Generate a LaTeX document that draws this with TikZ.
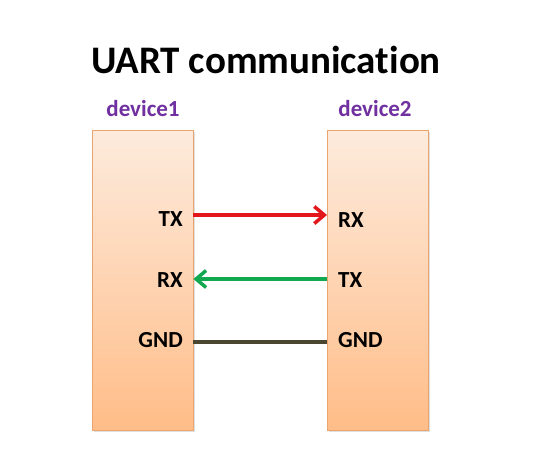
\documentclass[tikz,border=0pt]{standalone}
\usepackage{fontspec}
\setmainfont{Carlito}[Ligatures={NoCommon,NoRequired}]
\usetikzlibrary{arrows.meta,shadows}
\definecolor{peachtop}{HTML}{FDEBDD}
\definecolor{peachbot}{HTML}{FFBD88}
\definecolor{peachline}{HTML}{E9A470}
\definecolor{devpurple}{HTML}{7030A0}
\definecolor{txred}{HTML}{E3161B}
\definecolor{rxgreen}{HTML}{12A84F}
\definecolor{gndolive}{HTML}{4A4630}
\tikzset{devbox/.style={draw=peachline,top color=peachtop,bottom color=peachbot,minimum width=101pt,minimum height=300pt,inner sep=0pt,
  drop shadow={shadow xshift=1.5pt,shadow yshift=-1.5pt,opacity=.25}},
  devname/.style={text=devpurple,font=\bfseries\fontsize{23}{26}\selectfont},
  pin/.style={inner sep=0pt,font=\bfseries\fontsize{23}{26}\selectfont},
  wire/.style={line width=3.5pt}}
\begin{document}
\begin{tikzpicture}[x=1pt,y=-1pt]
\useasboundingbox (0,0) rectangle (538,458);
\node (title) at (266,60) {\bfseries\fontsize{39}{44}\selectfont UART communication};
\node[devname] (name1) at (143,109) {device1}; \node[devname] (name2) at (375,109) {device2};
\node[devbox,anchor=north west] (dev1) at (92,130) {}; \node[devbox,anchor=north west] (dev2) at (327,130) {};
% pins of device1
\node[pin,anchor=east] (tx1) at (183,219) {TX}; \node[pin,anchor=east] (rx1) at (183,280) {RX}; \node[pin,anchor=east] (gnd1) at (183,340) {GND};
% pins of device2
\node[pin,anchor=west] (rx2) at (338,220) {RX}; \node[pin,anchor=west] (tx2) at (338,280) {TX}; \node[pin,anchor=west] (gnd2) at (338,340) {GND};
\draw[wire,txred,-{Straight Barb[length=10pt,width=17pt]}] (dev1.east |- 0,215) -- (dev2.west |- 0,215);
\draw[wire,rxgreen,-{Straight Barb[length=10pt,width=17pt]}] (dev2.west |- 0,279) -- (dev1.east |- 0,279);
\draw[wire,gndolive] (dev1.east |- 0,342) -- (dev2.west |- 0,342);
\end{tikzpicture}
\end{document}
